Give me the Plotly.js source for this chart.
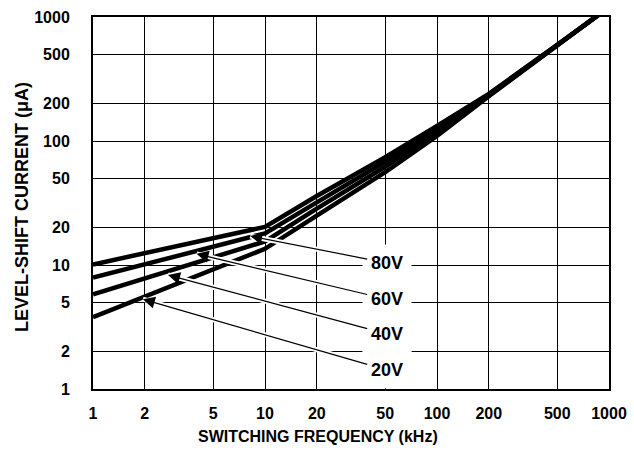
<!DOCTYPE html>
<html>
<head>
<meta charset="utf-8">
<script src="https://cdn.plot.ly/plotly-3.0.1.min.js"></script>
<style>html,body{margin:0;padding:0;background:#fff;}#chart{width:634px;height:453px;}</style>
</head>
<body>
<div id="chart"></div>
<script>
// Data
const freqKHz = [1, 10, 20, 50, 100, 200, 500, 1000];
const current80V = [10.1, 20.3, 36, 74, 132, 240, 596, 1200];
const current60V = [7.9, 18, 32, 68, 125, 236, 594, 1200];
const current40V = [5.8, 15.5, 28.5, 62, 118, 233, 592, 1200];
const current20V = [3.8, 13.5, 25, 56, 110, 230, 590, 1200];
const seriesNames = ["80V", "60V", "40V", "20V"];
const tickValues = [1, 2, 5, 10, 20, 50, 100, 200, 500, 1000];
const tickLabels = ["1", "2", "5", "10", "20", "50", "100", "200", "500", "1000"];
const xTitle = "SWITCHING FREQUENCY (kHz)";
const yTitle = "LEVEL-SHIFT CURRENT (μA)";
// Callout anchors: label position and arrow tip (data units)
const labelFreq = [51, 51, 51, 51];
const labelCurrent = [10.4, 5.3, 2.78, 1.42];
const tipFreq = [8.2, 4.0, 2.73, 1.95];
const tipCurrent = [17.1, 12.3, 8.3, 5.3];

const allSeries = [current80V, current60V, current40V, current20V];
const traces = allSeries.map((ys, i) => ({
  x: freqKHz, y: ys, name: seriesNames[i], type: "scatter", mode: "lines",
  line: {color: "#000", width: 4.5}, showlegend: false, hoverinfo: "skip"
}));

const fontFam = "Liberation Sans, Arial, Helvetica, sans-serif";
const annotations = [];
// white halos / background boxes first
for (let i = 0; i < 4; i++) {
  annotations.push({
    x: Math.log10(tipFreq[i]), y: Math.log10(tipCurrent[i]), xref: "x", yref: "y",
    ax: Math.log10(labelFreq[i]), ay: Math.log10(labelCurrent[i]), axref: "x", ayref: "y",
    text: seriesNames[i], showarrow: true, arrowhead: 0, arrowwidth: 5, arrowcolor: "#fff",
    font: {family: fontFam, size: 18, color: "rgba(0,0,0,0)", weight: "bold"},
    bgcolor: "#fff", borderpad: 8
  });
}
for (let i = 0; i < 4; i++) {
  annotations.push({
    x: Math.log10(tipFreq[i]), y: Math.log10(tipCurrent[i]), xref: "x", yref: "y",
    ax: Math.log10(labelFreq[i]), ay: Math.log10(labelCurrent[i]), axref: "x", ayref: "y",
    text: seriesNames[i], showarrow: true, arrowhead: 2, arrowsize: 2, arrowwidth: 1.2, arrowcolor: "#000",
    font: {family: fontFam, size: 18, color: "#000", weight: "bold"},
    bgcolor: "#fff", borderpad: 3
  });
}
// axis titles as annotations (placed like the reference)
annotations.push({
  text: xTitle, xref: "paper", yref: "paper", x: 0.436, y: -0.129,
  xanchor: "center", yanchor: "middle", showarrow: false,
  font: {family: fontFam, size: 16, color: "#000", weight: "bold"}
});
annotations.push({
  text: yTitle, xref: "paper", yref: "paper", x: -0.1376, y: 0.489, textangle: -90,
  xanchor: "center", yanchor: "middle", showarrow: false,
  font: {family: fontFam, size: 18, color: "#000", weight: "bold"}
});

const axisCommon = {
  type: "log", range: [0, 3], tickmode: "array", tickvals: tickValues, ticktext: tickLabels,
  showgrid: true, gridcolor: "#000", gridwidth: 1, zeroline: false,
  showline: true, linecolor: "#000", linewidth: 2, mirror: true, ticks: "",
  tickfont: {family: fontFam, size: 16, color: "#000", weight: "bold"}
};

const layout = {
  width: 634, height: 453,
  margin: {l: 93, r: 25, t: 17, b: 64, pad: 0},
  paper_bgcolor: "#fff", plot_bgcolor: "#fff",
  xaxis: Object.assign({}, axisCommon, {ticklabelstandoff: 9}),
  yaxis: Object.assign({}, axisCommon, {ticklabelstandoff: 18}),
  annotations: annotations
};

Plotly.newPlot("chart", traces, layout, {staticPlot: true, displayModeBar: false});
</script>
</body>
</html>
